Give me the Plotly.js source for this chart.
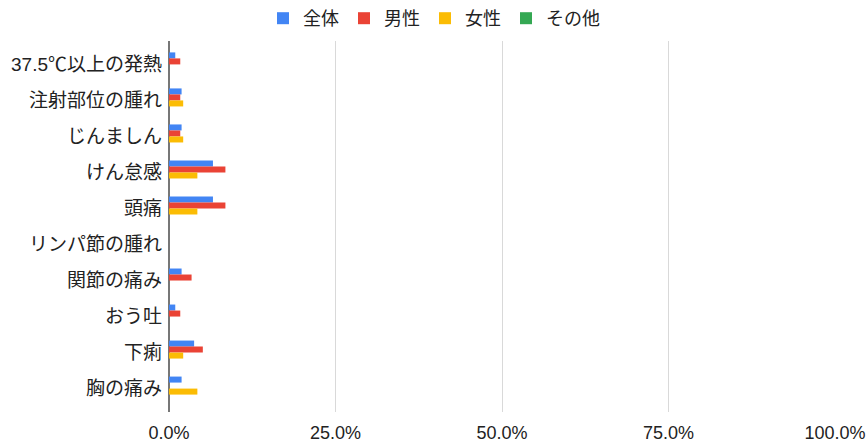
<!DOCTYPE html>
<html>
<head>
<meta charset="utf-8">
<script src="https://cdn.plot.ly/plotly-3.0.1.min.js"></script>
<style>html,body{margin:0;padding:0;background:#fff;}#chart{width:868px;height:444px;}</style>
</head>
<body>
<div id="chart"></div>
<script>
const categories = ["37.5℃以上の発熱","注射部位の腫れ","じんましん","けん怠感","頭痛","リンパ節の腫れ","関節の痛み","おう吐","下痢","胸の痛み"];
const seriesNames = ["全体","男性","女性","その他"];
const zentai = [0.0094,0.0189,0.0189,0.066,0.066,0,0.0189,0.0094,0.0377,0.0189];
const dansei = [0.0169,0.0169,0.0169,0.0847,0.0847,0,0.0339,0.0169,0.0508,0];
const josei = [0,0.0213,0.0213,0.0426,0.0426,0,0,0,0.0213,0.0426];
const sonota = [0,0,0,0,0,0,0,0,0,0];
const xTickVals = [0,0.25,0.5,0.75,1.0];
const xTickText = ["0.0%","25.0%","50.0%","75.0%","100.0%"];

const colors = ["#4285F4","#EA4335","#FBBC04","#34A853"];
const values = [zentai, dansei, josei, sonota];
const font = "Liberation Sans, Arial, 'Noto Sans CJK JP', sans-serif";

const traces = values.map((v,i)=>({
  type:"bar", orientation:"h", name:seriesNames[i],
  x:v, y:categories, marker:{color:colors[i]},
  hoverinfo:"x+y"
}));

const layout = {
  width:868, height:444,
  margin:{l:169, r:33, t:41, b:32},
  paper_bgcolor:"#fff", plot_bgcolor:"#fff",
  font:{family:font, size:18, color:"#222"},
  barmode:"group", bargap:0.333, bargroupgap:0,
  showlegend:true,
  legend:{orientation:"h", xref:"container", yref:"container", x:0.5, xanchor:"center", y:1, yanchor:"top",
          font:{family:font, size:18, color:"#222"}, itemclick:false, traceorder:"normal"},
  xaxis:{range:[0,1], tickvals:xTickVals, ticktext:xTickText, showgrid:true, gridcolor:"#d9d9d9", gridwidth:1,
         zeroline:true, zerolinecolor:"#777", zerolinewidth:1.5, showline:false, ticks:"", fixedrange:true,
         ticklabelstandoff:8, tickfont:{family:font, size:18, color:"#222"}},
  yaxis:{type:"category", range:[9.65,-0.65], showgrid:false, zeroline:false, showline:false, ticks:"",
         ticklabelstandoff:6, fixedrange:true, tickfont:{family:font, size:19, color:"#222"}}
};
Plotly.newPlot("chart", traces, layout, {displayModeBar:false, staticPlot:true});
</script>
</body>
</html>
